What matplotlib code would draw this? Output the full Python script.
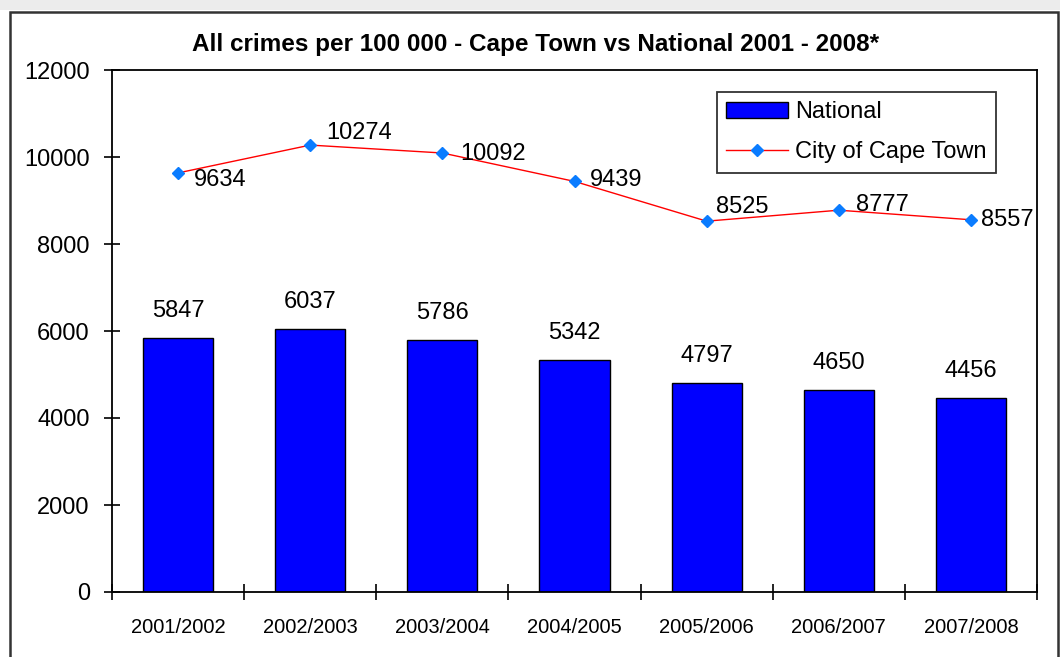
import matplotlib
matplotlib.use("Agg")
import matplotlib.pyplot as plt
from matplotlib.patches import Rectangle

years = ["2001/2002", "2002/2003", "2003/2004", "2004/2005", "2005/2006", "2006/2007", "2007/2008"]
national = [5847, 6037, 5786, 5342, 4797, 4650, 4456]
cape_town = [9634, 10274, 10092, 9439, 8525, 8777, 8557]

# label offsets (pixels) for the line labels, as placed in the original
line_label_dx = [16, 16, 18, 15, 9, 17, 10]
line_label_dy = [-7, 12, -1, 1, 14, 5, 0]

plt.rcParams['font.family'] = ['Liberation Sans', 'DejaVu Sans']
PX = 0.72  # pixels -> points at dpi 100

fig = plt.figure(figsize=(10.6, 6.57), dpi=100)

# outer frame and top shadow
fig.patches.append(Rectangle((0, 1 - 10 / 657), 1, 10 / 657, transform=fig.transFigure,
                             facecolor="#ececec", edgecolor="none", zorder=0))
fig.patches.append(Rectangle((10 / 1060, -0.05), 1048 / 1060, 1.05 - 12 / 657,
                             transform=fig.transFigure, facecolor="none",
                             edgecolor="#333333", lw=1.8, zorder=1))

ax = fig.add_axes([112 / 1060, 65 / 657, 925 / 1060, 522 / 657])
x = list(range(len(years)))

bars = ax.bar(x, national, width=0.53, color="#0000ff", edgecolor="black", lw=1.0,
              label="National", zorder=2)
line, = ax.plot(x, cape_town, color="red", lw=1.0, marker="D", markersize=6,
                markerfacecolor="#0a7cff", markeredgecolor="#0a7cff",
                label="City of Cape Town", zorder=3)

for xi, v in zip(x, national):
    ax.annotate(str(v), (xi, v), xytext=(0, 27 * PX), textcoords="offset points",
                ha="center", va="center", fontsize=17)
for xi, v, dx, dy in zip(x, cape_town, line_label_dx, line_label_dy):
    ax.annotate(str(v), (xi, v), xytext=(dx * PX, dy * PX), textcoords="offset points",
                ha="left", va="center", fontsize=17)

ax.set_xlim(-0.5, len(years) - 0.5)
ax.set_ylim(0, 12000)
ax.set_yticks(range(0, 12001, 2000))
ax.tick_params(axis="y", direction="inout", length=12, width=1.2, labelsize=17, pad=10)
ax.set_xticks(x)
ax.set_xticklabels(years)
ax.tick_params(axis="x", length=0, labelsize=14.5, pad=19)
ax.set_xticks([i + 0.5 for i in range(-1, len(years))], minor=True)
ax.tick_params(axis="x", which="minor", direction="inout", length=12, width=1.2)
for s in ax.spines.values():
    s.set_linewidth(1.3)

leg = ax.legend([bars, line], ["National", "City of Cape Town"],
                loc="upper left", bbox_to_anchor=(717 / 1060, 1 - 92 / 657),
                bbox_transform=fig.transFigure, fontsize=17, frameon=True,
                fancybox=False, edgecolor="black", handlelength=2.6,
                borderpad=0.4, labelspacing=0.75, handletextpad=0.3, borderaxespad=0)
leg.get_frame().set_linewidth(1.3)

fig.text(0.505, 1 - 45 / 657, "All crimes per 100 000 - Cape Town vs National 2001 - 2008*",
         ha="center", va="center", fontsize=17.5, fontweight="bold")

fig.savefig("out.png", dpi=100)
